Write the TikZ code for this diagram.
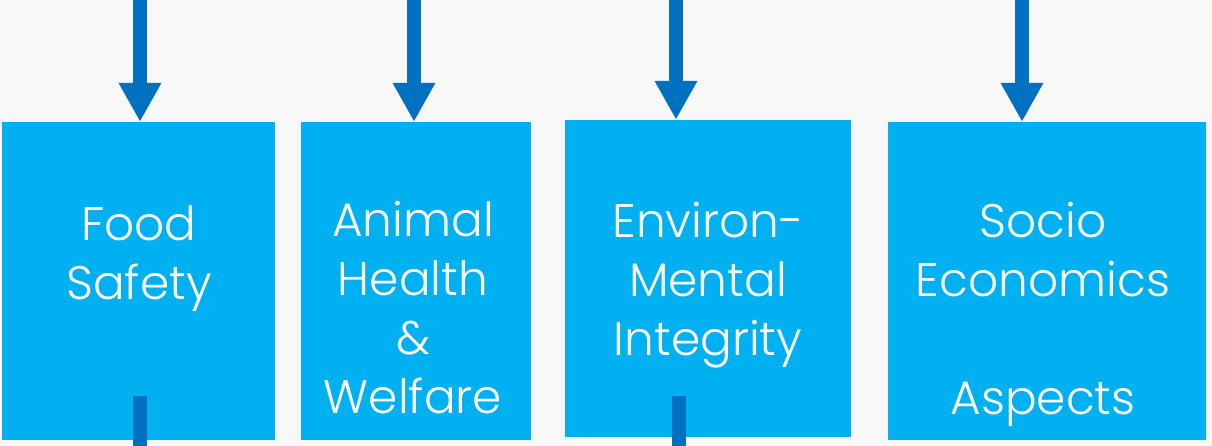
\documentclass[tikz,border=0pt]{standalone}
\usepackage{fontspec}
\setmainfont{Poppins}[UprightFont={* Light}]
\usetikzlibrary{arrows.meta}
\definecolor{boxcyan}{HTML}{00B0F0}
\definecolor{arrowblue}{HTML}{0070C0}
\definecolor{bgcol}{HTML}{F8F8F8}
\begin{document}
\begin{tikzpicture}[x=1pt,y=-1pt,
  box/.style={fill=boxcyan, draw=none, inner sep=0pt},
  lbl/.style={text=white, align=center, inner sep=0pt, anchor=base,
    font=\fontsize{47}{59}\selectfont},
  arr/.style={draw=arrowblue, line width=14pt,
    -{Triangle[width=40pt,length=39pt]}},
  stem/.style={draw=arrowblue, line width=14pt}]
\useasboundingbox (0,0) rectangle (1212,446);
\fill[bgcol] (0,0) rectangle (1212,446);
% boxes
\node[box, minimum width=273pt, minimum height=318pt] (b1) at (138.5,281) {};
\node[box, minimum width=230pt, minimum height=318pt] (b2) at (416,281) {};
\node[box, minimum width=286pt, minimum height=317pt] (b3) at (708,278.5) {};
\node[box, minimum width=318pt, minimum height=318pt] (b4) at (1047,281) {};
% labels (anchor base = baseline of last line)
\node[lbl] (t1) at (139,299) {Food\\Safety};
\node[lbl] (t2) at (413,413) {Animal\\Health\\\&\\Welfare};
\node[lbl] (t3) at (708,355) {Environ-\\Mental\\Integrity};
\node[lbl] (t4) at (1043,414) {Socio\\Economics\\[59pt]Aspects};
% arrow sources
\coordinate (s1) at (140,-5);
\coordinate (s2) at (414,-5);
\coordinate (s3) at (676,-5);
\coordinate (s4) at (1022,-5);
\draw[arr] (s1) -- (s1 |- b1.north);
\draw[arr] (s2) -- (s2 |- b2.north);
\draw[arr] (s3) -- (s3 |- b3.north);
\draw[arr] (s4) -- (s4 |- b4.north);
% outgoing stems
\coordinate (e1) at (140,396);
\coordinate (f1) at (140,452);
\coordinate (e3) at (678.5,396);
\coordinate (f3) at (678.5,452);
\draw[stem] (e1) -- (f1);
\draw[stem] (e3) -- (f3);
\end{tikzpicture}
\end{document}
